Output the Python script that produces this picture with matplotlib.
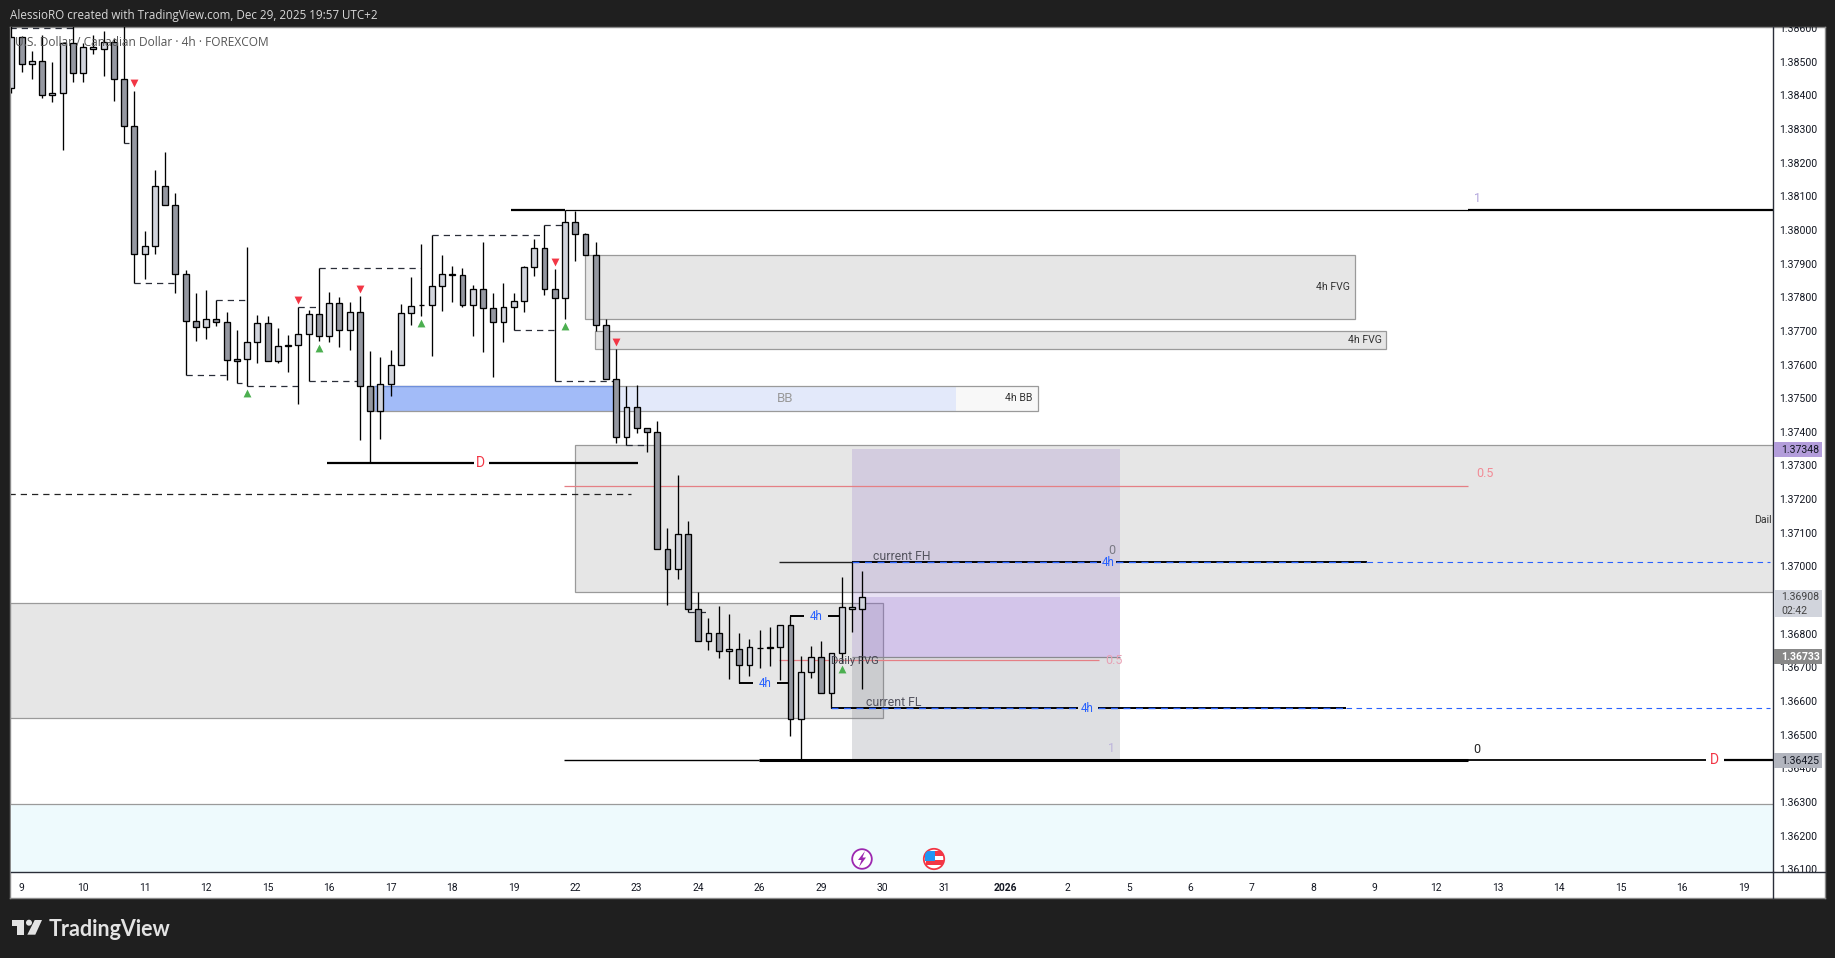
import numpy as np
import matplotlib
matplotlib.use('Agg')
import matplotlib.pyplot as plt
from matplotlib.patches import Rectangle, Circle, Polygon
from matplotlib.transforms import Bbox, TransformedBbox

W, H = 1835, 958

# USDCAD 4h, bar -1 is the one cut off by the left edge
opens = [1.38421, 1.38573, 1.38493, 1.38502, 1.38401, 1.38407, 1.38555, 1.38466, 1.38537, 1.38537, 1.38558,
         1.38448, 1.38309, 1.37928, 1.37952, 1.38130, 1.38074, 1.37869, 1.37729, 1.37711, 1.37735, 1.37726,
         1.37616, 1.37616, 1.37667, 1.37723, 1.37610, 1.37657, 1.37658, 1.37690, 1.37750, 1.37684, 1.37782,
         1.37702, 1.37756, 1.37536, 1.37462, 1.37542, 1.37598, 1.37753, 1.37777, 1.37777, 1.37833, 1.37868,
         1.37866, 1.37777, 1.37824, 1.37768, 1.37726, 1.37771, 1.37788, 1.37889, 1.37946, 1.37824, 1.37797,
         1.38023, 1.37988, 1.37925, 1.37717, 1.37557, 1.37384, 1.37473, 1.37411, 1.37399, 1.37051, 1.36992,
         1.37096, 1.36873, 1.36778, 1.36802, 1.36748, 1.36754, 1.36707, 1.36759, 1.36760, 1.36760, 1.36825,
         1.36546, 1.36686, 1.36730, 1.36623, 1.36742, 1.36873, 1.36873]
closes = [1.38573, 1.38493, 1.38502, 1.38401, 1.38407, 1.38555, 1.38466, 1.38543, 1.38543, 1.38558, 1.38448,
          1.38309, 1.37928, 1.37952, 1.38130, 1.38074, 1.37869, 1.37729, 1.37711, 1.37735, 1.37726, 1.37613,
          1.37611, 1.37667, 1.37723, 1.37610, 1.37655, 1.37654, 1.37690, 1.37750, 1.37684, 1.37782, 1.37702,
          1.37756, 1.37536, 1.37462, 1.37542, 1.37598, 1.37753, 1.37774, 1.37776, 1.37833, 1.37869, 1.37866,
          1.37777, 1.37824, 1.37768, 1.37726, 1.37771, 1.37788, 1.37889, 1.37946, 1.37824, 1.37797, 1.38023,
          1.37988, 1.37925, 1.37717, 1.37557, 1.37384, 1.37473, 1.37411, 1.37399, 1.37051, 1.36992, 1.37096,
          1.36873, 1.36778, 1.36802, 1.36748, 1.36754, 1.36707, 1.36760, 1.36757, 1.36759, 1.36825, 1.36546,
          1.36686, 1.36730, 1.36623, 1.36742, 1.36879, 1.36879, 1.36909]
highs = [1.38610, 1.38576, 1.38531, 1.38579, 1.38499, 1.38555, 1.38640, 1.38555, 1.38579, 1.38591, 1.38570,
         1.38640, 1.38413, 1.37996, 1.38178, 1.38231, 1.38109, 1.37881, 1.37812, 1.37821, 1.37791, 1.37756,
         1.37702, 1.37949, 1.37747, 1.37744, 1.37708, 1.37687, 1.37771, 1.37762, 1.37887, 1.37815, 1.37800,
         1.37785, 1.37803, 1.37640, 1.37622, 1.37643, 1.37780, 1.37860, 1.37958, 1.37985, 1.37925, 1.37892,
         1.37887, 1.37836, 1.37964, 1.37812, 1.37842, 1.37812, 1.37892, 1.37973, 1.38014, 1.37884, 1.38059,
         1.38056, 1.37991, 1.37964, 1.37735, 1.37646, 1.37536, 1.37539, 1.37411, 1.37432, 1.37114, 1.37271,
         1.37135, 1.36924, 1.36846, 1.36882, 1.36858, 1.36802, 1.36784, 1.36811, 1.36820, 1.36825, 1.36852,
         1.36733, 1.36763, 1.36778, 1.36742, 1.36968, 1.37013, 1.36986]
lows = [1.38407, 1.38469, 1.38448, 1.38392, 1.38380, 1.38237, 1.38439, 1.38439, 1.38523, 1.38457, 1.38383,
        1.38258, 1.37842, 1.37854, 1.37928, 1.38074, 1.37812, 1.37568, 1.37670, 1.37675, 1.37714, 1.37554,
        1.37545, 1.37536, 1.37604, 1.37610, 1.37604, 1.37577, 1.37482, 1.37551, 1.37670, 1.37667, 1.37652,
        1.37643, 1.37375, 1.37307, 1.37378, 1.37506, 1.37598, 1.37717, 1.37744, 1.37625, 1.37759, 1.37785,
        1.37771, 1.37684, 1.37637, 1.37563, 1.37667, 1.37702, 1.37756, 1.37863, 1.37806, 1.37551, 1.37735,
        1.37907, 1.37925, 1.37699, 1.37557, 1.37366, 1.37360, 1.37396, 1.37340, 1.37051, 1.36885, 1.36962,
        1.36864, 1.36778, 1.36751, 1.36727, 1.36665, 1.36653, 1.36674, 1.36698, 1.36704, 1.36662, 1.36496,
        1.36427, 1.36668, 1.36623, 1.36579, 1.36713, 1.36805, 1.36635]

pivot_up_bars = [22, 29, 39, 53, 80]
pivot_up_prices = [1.37515, 1.37649, 1.37722, 1.37714, 1.36695]
pivot_down_bars = [11, 27, 33, 52, 58]
pivot_down_prices = [1.38437, 1.37791, 1.37824, 1.37905, 1.37667]

# market structure, dashed: start bar, end bar, price
swing_start = [-1.1, 10, 11, 16, 19, 21, 22, 27, 28, 29, 40, 48, 51, 52, 59, 65]
swing_end = [5, 10.5, 15, 20, 22, 21.5, 27, 29, 33, 39, 51, 52, 53, 58, 61, 67]
swing_price = [1.38600, 1.38258, 1.37842, 1.37568, 1.37791, 1.37545, 1.37536, 1.37771, 1.37551, 1.37887,
               1.37985, 1.37702, 1.38014, 1.37551, 1.37360, 1.36864]

# zones: start bar, end bar, top price, bottom price
fvg_start = [55, 55.9, 54, -1.2]
fvg_end = [130.1, 133.1, 171, 84]
fvg_top = [1.37925, 1.37699, 1.37360, 1.36891]
fvg_bottom = [1.37735, 1.37646, 1.36924, 1.36549]

bb_start, bb_mid, bb_fade, bb_end = 34.4, 57.8, 91.1, 99.1
bb_top, bb_bottom = 1.37536, 1.37462

fib_start, fib_end = 81, 107.1
fib_top, fib_mid, fib_bottom = 1.37348, 1.36730, 1.36425
ote_start, ote_top = 82, 1.36909

y_ticks = [1.36100, 1.36200, 1.36300, 1.36400, 1.36500, 1.36600, 1.36700, 1.36800, 1.36900, 1.37000, 1.37100,
           1.37200, 1.37300, 1.37400, 1.37500, 1.37600, 1.37700, 1.37800, 1.37900, 1.38000, 1.38100, 1.38200,
           1.38300, 1.38400, 1.38500, 1.38600]
x_labels = ['9', '10', '11', '12', '15', '16', '17', '18', '19', '22', '23', '24', '26', '29', '30', '31', '2026',
            '2', '5', '6', '7', '8', '9', '12', '13', '14', '15', '16', '19']

UP, DOWN, INK = '#d1d4dc', '#9598a1', '#000000'
BORDER = '#9a9a9a'
TEXT = '#131722'
plt.rcParams['font.family'] = ['Roboto', 'DejaVu Sans']

fig = plt.figure(figsize=(W / 100, H / 100), dpi=100, facecolor='#1f1f1f')


def fig_box(x0, y0, x1, y1):
    return [x0 / W, 1 - y1 / H, (x1 - x0) / W, (y1 - y0) / H]


# white panel behind chart and both scales
panel = fig.add_axes(fig_box(10, 27, 1825, 898), facecolor='white', zorder=0)
panel.set_xticks([])
panel.set_yticks([])
for s in panel.spines.values():
    s.set_color('#8a8a8a')
    s.set_linewidth(1)

ax = fig.add_axes(fig_box(10.5, 27, 1773, 872), facecolor='none', zorder=1)
ax.set_xlim(-1.093, 170.85)
ax.set_ylim(1.36092, 1.38603)

# lower pane
ax.add_patch(Rectangle((-1.2, 1.36), 173, 0.00294, fc='#eefafd', ec='none', zorder=0.5))
ax.hlines(1.36294, -1.2, 171, color=BORDER, lw=0.9, zorder=0.6)

for x0, x1, t, b in zip(fvg_start, fvg_end, fvg_top, fvg_bottom):
    ax.add_patch(Rectangle((x0, b), x1 - x0, t - b, fc='#787878', alpha=0.18, ec='none', zorder=1))
    ax.add_patch(Rectangle((x0, b), x1 - x0, t - b, fc='none', ec=BORDER, lw=0.9, zorder=1.1))

# fib box
ax.add_patch(Rectangle((fib_start, fib_mid), fib_end - fib_start, fib_top - fib_mid, fc='#673ab7', alpha=0.15,
                       ec='none', zorder=1.2))
ax.add_patch(Rectangle((fib_start, fib_bottom), fib_end - fib_start, fib_mid - fib_bottom, fc='#787b86', alpha=0.24,
                       ec='none', zorder=1.2))
ax.add_patch(Rectangle((ote_start, fib_mid), fib_end - ote_start, ote_top - fib_mid, fc='#9575cd', alpha=0.25,
                       ec='none', zorder=1.3))
ax.hlines(fib_mid, fib_start, fib_end, color='#8a8a90', lw=0.9, zorder=1.4)

# breaker block
ax.add_patch(Rectangle((bb_start, bb_bottom), bb_mid - bb_start, bb_top - bb_bottom, fc='#a2bbf8', ec='none', zorder=1))
ax.add_patch(Rectangle((bb_mid, bb_bottom), bb_fade - bb_mid, bb_top - bb_bottom, fc='#e3e9fa', ec='none', zorder=1))
ax.add_patch(Rectangle((bb_fade, bb_bottom), bb_end - bb_fade, bb_top - bb_bottom, fc='#f8f8f8', ec='none', zorder=1))
ax.add_patch(Rectangle((bb_start, bb_bottom), bb_end - bb_start, bb_top - bb_bottom, fc='none', ec=BORDER, lw=0.9,
                       zorder=1.1))
ax.hlines(bb_top, bb_start, bb_mid, color='#6f8fdc', lw=0.9, zorder=1.2)

# long levels
ax.hlines(1.38059, 47.7, 53, color='black', lw=1.6, zorder=2)
ax.hlines(1.38059, 53, 141.1, color='black', lw=0.9, zorder=2)
ax.hlines(1.38059, 141.1, 171, color='black', lw=1.6, zorder=2)
ax.hlines([1.37307, 1.37307], [29.8, 45.6], [44.1, 60.1], color='black', lw=1.6, zorder=2.5)
ax.hlines(1.37215, -1.2, 59.4, color='#222222', lw=0.9, linestyle=(0, (5, 4)), zorder=2)
ax.hlines(1.37239, 52.9, 141.1, color='#e57f85', lw=0.9, zorder=2)
ax.hlines(1.36721, 73.9, 105.1, color='#e57f85', lw=0.9, zorder=2)
ax.hlines(1.37013, 73.9, 81, color='#222222', lw=1, zorder=2)
ax.hlines(1.36425, 52.9, 71.9, color='black', lw=1, zorder=2)
ax.hlines(1.36425, 71.9, 141.1, color='black', lw=2.2, zorder=2)
ax.hlines(1.36425, 141.1, 164.3, color='black', lw=1.3, zorder=2)
ax.hlines(1.36425, 166.1, 171, color='black', lw=1.6, zorder=2)

# 4h highs and lows
ax.hlines([1.36653, 1.36653], [70, 73.7], [71.3, 75], color='black', lw=1.4, zorder=3)
ax.hlines([1.36852, 1.36852], [75, 78.7], [76.3, 80], color='black', lw=1.4, zorder=3)
for x0, x1, price in [(79, 103.0, 1.36579), (105, 129.2, 1.36579), (81, 105.3, 1.37013), (106.8, 131.2, 1.37013)]:
    ax.hlines(price, x0, x1, color='black', lw=1.4, zorder=3)
    ax.hlines(price, x0, x1, color='#2962ff', lw=1, linestyle=(0, (5, 4)), zorder=3.1)
ax.hlines([1.36579, 1.37013], [129.2, 131.2], 170.6, color='#2962ff', lw=0.8, linestyle=(0, (5, 4)), zorder=3)

ax.hlines(swing_price, swing_start, swing_end, color='#2a2e39', lw=0.9, linestyle=(0, (5, 4)), zorder=3)

# candles
bars = np.arange(-1, 83)
opens, closes, highs, lows = map(np.array, (opens, closes, highs, lows))
rising = closes >= opens
ax.vlines(bars, lows, highs, color=INK, lw=0.95, zorder=4)
ax.bar(bars, np.abs(closes - opens), bottom=np.minimum(opens, closes), width=0.58,
       color=np.where(rising, UP, DOWN), edgecolor=INK, linewidth=0.95, zorder=5)

ax.scatter(pivot_up_bars, pivot_up_prices, marker='^', s=32, c='#4caf50', linewidths=0, zorder=6)
ax.scatter(pivot_down_bars, pivot_down_prices, marker='v', s=32, c='#f23645', linewidths=0, zorder=6)


# drawing labels
def label(x, price, s, color=TEXT, size=8, **kw):
    ax.text(x, price, s, color=color, fontsize=size, ha='center', va='center', zorder=7, **kw)


label(127.9, 1.37830, '4h FVG', '#333333', 7.6)
label(131, 1.37672, '4h FVG', '#333333', 7.6)
label(74.5, 1.37500, 'BB', '#999999', 9.5)
label(97.3, 1.37500, '4h BB', '#333333', 7.6)
label(44.8, 1.37307, 'D', '#f23645', 10)
label(165.1, 1.36425, 'D', '#f23645', 10)
label(85.9, 1.37031, 'current FH', '#555560', 8.8)
label(85.1, 1.36597, 'current FL', '#555560', 8.8)
label(106.6, 1.36721, '0.5', '#e8a0b4', 9)
label(106.3, 1.37047, '0', '#7a7a84', 9)
label(106.3, 1.36459, '1', '#bcb4dc', 9)
label(142, 1.38092, '1', '#b3a6dc', 9)
label(142.7, 1.37275, '0.5', '#f28b96', 9)
label(142, 1.36457, '0', '#222222', 9)
label(81.3, 1.36718, 'Daily FVG', '#444450', 8)
label(72.5, 1.36653, '4h', '#2962ff', 8.3)
label(77.5, 1.36852, '4h', '#2962ff', 8.3)
label(103.9, 1.36579, '4h', '#2962ff', 8.3)
label(106, 1.37013, '4h', '#2962ff', 8.3)
ax.text(169, 1.37139, 'Dail', color='#333333', fontsize=7.6, ha='left', va='center', zorder=7, clip_on=True)

# scales
ax.yaxis.tick_right()
ax.set_yticks(y_ticks)
ax.set_yticklabels(['%.5f' % v for v in y_ticks], color=TEXT, fontsize=7.6)
ax.set_xticks(np.arange(0, 6 * len(x_labels), 6))
ax.set_xticklabels(x_labels, color=TEXT, fontsize=7.4)
ax.get_xticklabels()[x_labels.index('2026')].set_fontweight('bold')
ax.tick_params(axis='both', length=0)
ax.tick_params(axis='y', pad=4.5)
ax.tick_params(axis='x', pad=8)
clip = TransformedBbox(Bbox([[10 / W, 1 - 872 / H], [1825 / W, 1 - 27 / H]]), fig.transFigure)
for t in ax.get_yticklabels():
    t.set_clip_box(clip)
    t.set_clip_on(True)

for s in ('left', 'top'):
    ax.spines[s].set_visible(False)
ax.spines['right'].set_color('#2a2e39')
ax.spines['bottom'].set_color('#2a2e39')
ax.spines['right'].set_linewidth(1)
ax.spines['bottom'].set_linewidth(1)

# pixel layer for the frame furniture
top = fig.add_axes([0, 0, 1, 1], facecolor='none', zorder=2)
top.set_xlim(0, W)
top.set_ylim(H, 0)
top.axis('off')

top.plot([1773, 1773], [872, 898], color='#2a2e39', lw=1)
top.plot([1773, 1825], [872, 872], color='#2a2e39', lw=1)

# price tags on the scale
for y0, y1, fc, lines, col in [(442, 457, '#b39ddb', ['1.37348'], TEXT),
                               (590, 617, '#d1d4dc', ['1.36908', '02:42'], '#444444'),
                               (649, 664, '#888888', ['1.36733'], 'white'),
                               (753, 768, '#b2b5be', ['1.36425'], TEXT)]:
    top.add_patch(Rectangle((1774, y0), 48, y1 - y0, fc=fc, ec='none'))
    for n, s in enumerate(lines):
        top.text(1781, y0 + 7.5 + 13 * n, s, color=col, fontsize=7.6, ha='left', va='center',
                 fontweight='bold' if col == 'white' else 'normal')

# event icons
top.add_patch(Circle((862, 859), 9.8, fc='white', ec='#9c27b0', lw=1.3))
top.add_patch(Polygon([(865, 851), (858, 860), (861.5, 860), (859, 867), (866, 857.5), (862.5, 857.5)], fc='#9c27b0',
                      ec='none'))
flag = Circle((934, 859), 10.2, fc='white', ec='#f23645', lw=1.3)
top.add_patch(flag)
for x0, y0, w, h, c in [(926, 851, 18, 5, '#f23645'), (926, 860, 18, 5, '#f23645'), (926, 864, 18, 1, '#f23645')]:
    p = top.add_patch(Rectangle((x0, y0), w, h, fc=c, ec='none'))
    p.set_clip_path(flag)
p = top.add_patch(Rectangle((925, 851), 10, 10, fc='#2196f3', ec='none'))
p.set_clip_path(flag)

# header, chart title and logo
fig.text(10 / W, 1 - 15 / H, 'AlessioRO created with TradingView.com, Dec 29, 2025 19:57 UTC+2', color='#d8d8d8',
         fontsize=8.4, family='Open Sans', va='center', ha='left')
top.text(15, 42, 'U.S. Dollar / Canadian Dollar \u00b7 4h \u00b7 FOREXCOM', color='#555555', fontsize=8.6,
         family='Open Sans', va='center', ha='left', zorder=8)
top.add_patch(Polygon([(12, 920), (24, 920), (24, 934.7), (17.3, 934.7), (17.3, 926), (12, 926)], fc='#e3e3e3',
                      ec='none'))
top.add_patch(Circle((29, 922.7), 3, fc='#e3e3e3', ec='none'))
top.add_patch(Polygon([(34.7, 920), (42, 920), (35.3, 934.7), (27.3, 934.7)], fc='#e3e3e3', ec='none'))
top.text(49, 930, 'TradingView', color='#e3e3e3', fontsize=15.5, family='Lato', fontweight='bold', va='center', ha='left')

plt.savefig('out.png', dpi=100, facecolor=fig.get_facecolor())
plt.close()
